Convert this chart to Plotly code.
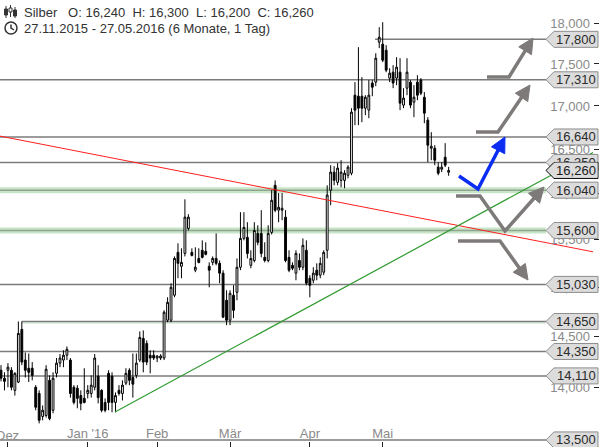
import math
import plotly.graph_objects as go

# ---------------- data ----------------
instrument = "Silber"
period_text = "27.11.2015 - 27.05.2016 (6 Monate, 1 Tag)"

opens = [14.165, 14.087, 14.165, 14.165, 13.970, 14.050, 14.570, 14.265, 14.185, 14.185,
         14.000, 13.940, 13.720, 13.730, 14.067, 13.779, 14.135, 14.235, 14.265, 14.313,
         14.265, 14.000, 13.990, 13.920, 13.893, 13.940, 13.940, 14.000, 14.107, 13.970,
         13.854, 14.135, 14.107, 13.854, 13.970, 13.940, 14.040, 14.165, 14.095, 14.115,
         14.265, 14.480, 14.430, 14.313, 14.313, 14.285, 14.285, 14.285, 14.663, 14.663,
         14.918, 15.366, 15.219, 15.355, 15.622, 15.366, 15.178, 15.302, 15.388, 15.377,
         15.219, 15.260, 15.302, 15.250, 15.147, 14.866, 14.663, 14.918, 14.948, 15.209,
         15.515, 15.526, 15.229, 15.280, 15.568, 15.568, 15.313, 15.280, 15.579, 16.094,
         15.820, 15.820, 15.744, 15.313, 15.229, 15.147, 15.280, 15.209, 15.388, 15.094,
         15.073, 15.178, 15.126, 15.157, 15.388, 16.040, 16.241, 16.127, 16.149, 16.149,
         16.206, 16.229, 17.127, 17.115, 17.115, 16.974, 16.951, 17.271, 17.282, 17.765,
         17.741, 17.667, 17.330, 17.401, 17.330, 17.401, 17.010, 17.210, 17.282, 17.045,
         17.282, 17.306, 17.103, 16.834, 16.511, 16.511, 16.297, 16.274, 16.409, 16.240]
highs = [14.215, 14.145, 14.235, 14.195, 14.145, 14.650, 14.650, 14.340, 14.330, 14.245,
         14.020, 13.970, 13.825, 14.215, 14.115, 14.145, 14.285, 14.325, 14.362, 14.400,
         14.285, 14.020, 14.020, 13.970, 14.185, 14.020, 14.115, 14.325, 14.215, 13.980,
         13.893, 14.165, 14.145, 13.950, 14.020, 14.067, 14.185, 14.185, 14.330, 14.330,
         14.550, 14.560, 14.460, 14.362, 14.362, 14.313, 14.323, 14.764, 14.897, 15.042,
         15.323, 15.462, 15.409, 15.939, 15.776, 15.409, 15.420, 15.409, 15.494, 15.473,
         15.260, 15.323, 15.568, 15.280, 15.178, 14.969, 14.969, 15.021, 15.302, 15.798,
         15.798, 15.689, 15.388, 15.689, 15.656, 15.820, 15.473, 15.656, 16.040, 16.149,
         16.008, 16.008, 15.820, 15.388, 15.260, 15.388, 15.355, 15.515, 15.494, 15.126,
         15.209, 15.250, 15.313, 15.388, 16.094, 16.319, 16.308, 16.342, 16.375, 16.263,
         16.319, 16.974, 17.282, 17.704, 17.342, 17.127, 17.306, 17.306, 17.630, 17.950,
         18.012, 17.729, 17.449, 17.486, 17.582, 17.570, 17.210, 17.570, 17.306, 17.246,
         17.365, 17.330, 17.163, 16.869, 16.695, 16.546, 16.353, 16.353, 16.569, 16.300]
lows = [14.057, 13.970, 14.000, 13.970, 13.920, 14.040, 14.215, 14.095, 14.050, 14.067,
        13.779, 13.655, 13.684, 13.710, 13.684, 13.750, 14.095, 14.195, 14.195, 14.265,
        13.900, 13.835, 13.798, 13.779, 13.845, 13.893, 13.900, 13.970, 13.845, 13.760,
        13.760, 13.779, 13.760, 13.760, 13.920, 13.873, 14.020, 14.020, 13.900, 14.087,
        14.245, 14.145, 14.215, 14.135, 14.265, 14.245, 14.265, 14.265, 14.643, 14.643,
        14.897, 15.094, 15.094, 15.323, 15.600, 15.323, 15.157, 15.250, 15.302, 15.334,
        15.000, 15.229, 15.229, 15.042, 14.684, 14.613, 14.613, 14.684, 14.866, 15.178,
        15.494, 15.302, 15.198, 15.260, 15.441, 15.313, 15.260, 15.260, 15.557, 15.798,
        15.689, 15.711, 15.260, 15.157, 15.178, 15.073, 15.178, 15.178, 15.021, 14.897,
        15.042, 15.073, 15.094, 15.126, 15.302, 15.874, 16.094, 16.094, 16.072, 16.061,
        16.172, 16.206, 16.776, 16.776, 16.811, 16.893, 16.857, 17.115, 17.234, 17.692,
        17.522, 17.401, 17.282, 17.210, 17.246, 16.951, 16.974, 17.127, 16.974, 16.869,
        17.068, 17.127, 16.799, 16.353, 16.375, 16.319, 16.206, 16.241, 16.297, 16.200]
closes = [14.087, 14.057, 14.195, 14.000, 14.135, 14.530, 14.245, 14.165, 14.145, 14.115,
          13.808, 13.684, 13.779, 14.175, 13.700, 14.087, 14.235, 14.285, 14.313, 14.372,
          13.940, 13.854, 13.893, 13.845, 13.854, 13.970, 14.020, 14.285, 13.900, 13.779,
          13.779, 13.854, 13.854, 13.920, 13.940, 14.020, 14.135, 14.067, 14.030, 14.235,
          14.490, 14.245, 14.245, 14.285, 14.285, 14.305, 14.305, 14.744, 14.845, 15.000,
          15.302, 15.250, 15.260, 15.744, 15.744, 15.334, 15.209, 15.260, 15.313, 15.345,
          15.178, 15.302, 15.250, 15.147, 14.694, 14.663, 14.938, 14.764, 15.209, 15.515,
          15.633, 15.355, 15.302, 15.600, 15.473, 15.355, 15.280, 15.568, 15.928, 15.820,
          15.852, 15.841, 15.280, 15.178, 15.198, 15.355, 15.209, 15.441, 15.042, 15.021,
          15.147, 15.126, 15.250, 15.366, 15.986, 16.241, 16.149, 16.286, 16.241, 16.229,
          16.297, 16.928, 16.951, 16.974, 16.974, 17.103, 17.127, 17.222, 17.570, 17.826,
          17.546, 17.425, 17.389, 17.271, 17.461, 17.033, 17.092, 17.401, 17.010, 17.103,
          17.127, 17.151, 16.916, 16.546, 16.534, 16.375, 16.229, 16.297, 16.319, 16.260]

month_labels = ["Dez", "Jan '16", "Feb", "Mär", "Apr", "Mai"]
month_first_bar = [2, 25, 45, 66, 89, 110]

y_ticks = [14.0, 14.5, 15.0, 15.5, 16.0, 16.5, 17.0, 17.5, 18.0]

levels = [17.800, 17.310, 16.640, 16.350, 16.040, 15.600, 15.030, 14.650, 14.350, 14.110, 13.500]
level_start_bar = [107.8, None, None, None, None, None, None, 6.0, None, None, None]
band_levels = [16.040, 15.600]
current_price = 16.260

resistance_x = [-0.3, 170.6]
resistance_y = [16.650, 15.372]
support_x = [32.85, 170.6]
support_y = [13.763, 16.463]

# scenario drawings (pixel coords of the drawing tool, last point = arrow tip)
scenario_arrows = [
    ("#0b2df2", [(459, 176), (478, 189), (505, 137)]),
    ("#7f7a7a", [(487, 77), (509, 77), (533, 38)]),
    ("#7f7a7a", [(476, 132), (498, 132), (530, 85)]),
    ("#7f7a7a", [(456, 196), (480, 196), (505, 231), (544, 187)]),
    ("#7f7a7a", [(458, 241), (500, 241), (528, 280)]),
]

# ---------------- geometry ----------------
W, H = 600, 447
ML, MR, MT, MB = 0, 7, 0, 6
PW, PH = W - ML - MR, H - MT - MB
X_RANGE = [-0.288, 170.6]
Y_LO, Y_HI = 13.49, 18.29
L0, L1 = math.log10(Y_LO), math.log10(Y_HI)
FONT = "Liberation Sans, Arial, sans-serif"
AXIS_FONT = dict(family=FONT, size=13, color="#8a8a8a")


def fmt(v):
    return f"{v:.3f}".replace(".", ",")


def xp(pix):  # pixel -> paper x
    return pix / PW


def yp(pix):  # pixel -> paper y
    return 1 - pix / PH


def y_paper_of_price(p):
    return (math.log10(p) - L0) / (L1 - L0)


def bar_at_pixel(pix):
    return X_RANGE[0] + pix / PW * (X_RANGE[1] - X_RANGE[0])


def price_offset(p, dpix):
    return p * 10 ** (dpix * (L1 - L0) / PH)


TAG_TIP, TAG_BODY, TAG_RIGHT = 546, 554, 598
LEVEL_END = bar_at_pixel(TAG_TIP)

fig = go.Figure()

fig.add_trace(go.Candlestick(
    x=list(range(len(opens))), open=opens, high=highs, low=lows, close=closes,
    increasing=dict(line=dict(color="black", width=1), fillcolor="white"),
    decreasing=dict(line=dict(color="black", width=1), fillcolor="black"),
    whiskerwidth=0, showlegend=False, hoverinfo="skip"))

fig.add_trace(go.Scatter(x=resistance_x, y=resistance_y, mode="lines",
                         line=dict(color="#ff1f1f", width=1), hoverinfo="skip", showlegend=False))
fig.add_trace(go.Scatter(x=support_x, y=support_y, mode="lines",
                         line=dict(color="#2f9a2f", width=1.2), hoverinfo="skip", showlegend=False))

shapes = []
annotations = []

# green support/resistance bands
for lvl in band_levels:
    shapes.append(dict(type="rect", xref="x", yref="y", x0=X_RANGE[0], x1=LEVEL_END,
                       y0=price_offset(lvl, -3), y1=price_offset(lvl, 3),
                       fillcolor="#c8e5c8", line=dict(width=0), layer="below"))
shapes.append(dict(type="rect", xref="x", yref="y", x0=6.0, x1=LEVEL_END,
                   y0=price_offset(14.650, -2.5), y1=14.650,
                   fillcolor="#dff0df", line=dict(width=0), layer="below"))

# horizontal levels
for lvl, start in zip(levels, level_start_bar):
    x0 = X_RANGE[0] if start is None else start
    col = "#8fa58f" if lvl in band_levels else "#7b7b7b"
    shapes.append(dict(type="line", xref="x", yref="y", x0=x0, x1=LEVEL_END, y0=lvl, y1=lvl,
                       line=dict(color=col, width=1.5), layer="below"))

# scenario arrows
for col, pts in scenario_arrows:
    tip = pts[-1]
    prev = pts[-2]
    dx, dy = tip[0] - prev[0], tip[1] - prev[1]
    d = math.hypot(dx, dy)
    ux, uy = dx / d, dy / d
    hl, hw = 15, 7.5
    bx, by = tip[0] - ux * hl, tip[1] - uy * hl
    nx, ny = -uy, ux
    line_pts = pts[:-1] + [(bx + ux * 2, by + uy * 2)]
    path = "M " + " L ".join(f"{xp(a):.5f},{yp(b):.5f}" for a, b in line_pts)
    shapes.append(dict(type="path", xref="paper", yref="paper", path=path,
                       line=dict(color=col, width=3.5), layer="above"))
    head = (f"M {xp(tip[0]):.5f},{yp(tip[1]):.5f} "
            f"L {xp(bx + nx * hw):.5f},{yp(by + ny * hw):.5f} "
            f"L {xp(bx - nx * hw):.5f},{yp(by - ny * hw):.5f} Z")
    shapes.append(dict(type="path", xref="paper", yref="paper", path=head,
                       fillcolor=col, line=dict(color=col, width=1), layer="above"))


def add_tag(lvl, border, bwidth):
    yc = y_paper_of_price(lvl)
    dyy = 8 / PH
    path = (f"M {xp(TAG_TIP):.5f},{yc:.5f} L {xp(TAG_BODY):.5f},{yc + dyy:.5f} "
            f"L {xp(TAG_RIGHT):.5f},{yc + dyy:.5f} L {xp(TAG_RIGHT):.5f},{yc - dyy:.5f} "
            f"L {xp(TAG_BODY):.5f},{yc - dyy:.5f} Z")
    shapes.append(dict(type="path", xref="paper", yref="paper", path=path,
                       fillcolor="#dcdcdc", line=dict(color=border, width=bwidth), layer="above"))


for lvl in levels:
    add_tag(lvl, "#8c8c8c", 1)
add_tag(current_price, "#000000", 1)

for lvl in levels:
    annotations.append(dict(xref="paper", yref="paper", x=xp(576), y=y_paper_of_price(lvl),
                            text=fmt(lvl), showarrow=False, xanchor="center", yanchor="middle",
                            font=dict(family=FONT, size=13, color="#2a2a2a")))
# current price tag (covers part of the neighbouring 16,350 tag text)
annotations.append(dict(xref="paper", yref="paper", x=xp(576), y=y_paper_of_price(current_price),
                        text=fmt(current_price), showarrow=False, xanchor="center", yanchor="middle",
                        width=42, height=14, borderpad=0, bgcolor="#dcdcdc",
                        font=dict(family=FONT, size=13, color="#1a1a1a")))

# first month label sits at the left border (plotly hides inside labels that overflow)
annotations.append(dict(xref="x", yref="paper", x=month_first_bar[0], y=yp(435),
                        text=month_labels[0], showarrow=False, xanchor="center", yanchor="middle",
                        font=AXIS_FONT))

# header
sp = "\u00a0"
head1 = (f"{instrument}{sp*3}O:{sp}{fmt(opens[-1])}{sp*2}H:{sp}{fmt(highs[-1])}{sp*2}"
         f"L:{sp}{fmt(lows[-1])}{sp*2}C:{sp}{fmt(closes[-1])}")
annotations.append(dict(xref="paper", yref="paper", x=xp(22), y=yp(12), text=head1,
                        showarrow=False, xanchor="left", yanchor="middle",
                        font=dict(family=FONT, size=13, color="#333333")))
annotations.append(dict(xref="paper", yref="paper", x=xp(22), y=yp(28), text=period_text,
                        showarrow=False, xanchor="left", yanchor="middle",
                        font=dict(family=FONT, size=13, color="#333333")))

# small icons (candles glyph and clock)
for cx, top, bot, btop, bbot, fill in [(6, 6, 18, 9, 15, "#333"), (10.5, 5, 17, 8, 12, "white"), (15, 7, 18, 10, 16, "#333")]:
    shapes.append(dict(type="line", xref="paper", yref="paper", x0=xp(cx), x1=xp(cx), y0=yp(top), y1=yp(bot),
                       line=dict(color="#333", width=1), layer="above"))
    shapes.append(dict(type="rect", xref="paper", yref="paper", x0=xp(cx - 1.5), x1=xp(cx + 1.5),
                       y0=yp(btop), y1=yp(bbot), fillcolor=fill, line=dict(color="#333", width=1), layer="above"))
shapes.append(dict(type="circle", xref="paper", yref="paper", x0=xp(5), x1=xp(17), y0=yp(22), y1=yp(34),
                   line=dict(color="#333", width=1.5), layer="above"))
shapes.append(dict(type="path", xref="paper", yref="paper",
                   path=f"M {xp(11)},{yp(24.5)} L {xp(11)},{yp(28)} L {xp(14)},{yp(30)}",
                   line=dict(color="#333", width=1.5), layer="above"))

fig.update_layout(
    width=W, height=H,
    margin=dict(l=ML, r=MR, t=MT, b=MB, pad=0),
    paper_bgcolor="white", plot_bgcolor="white",
    separators=",.",
    showlegend=False, hovermode=False,
    boxgap=0.25,
    shapes=shapes, annotations=annotations,
    xaxis=dict(range=X_RANGE, rangeslider=dict(visible=False), showgrid=False, zeroline=False,
               showline=False, tickmode="array", tickvals=month_first_bar, ticktext=month_labels,
               ticks="outside", ticklen=5, tickcolor="#222", tickwidth=1,
               ticklabelposition="inside", ticklabelstandoff=-3, tickfont=AXIS_FONT,
               automargin=False, fixedrange=True),
    yaxis=dict(type="log", range=[L0, L1], side="right", showgrid=False, zeroline=False,
               showline=False, tickmode="array", tickvals=y_ticks, tickformat=".3f",
               ticks="outside", ticklen=5, tickcolor="#222", tickwidth=1,
               ticklabelposition="inside", tickfont=AXIS_FONT,
               automargin=False, fixedrange=True),
)

fig.write_html("out.html", config={"displayModeBar": False},
               post_script="document.body.style.margin='0';document.body.style.overflow='hidden';")
